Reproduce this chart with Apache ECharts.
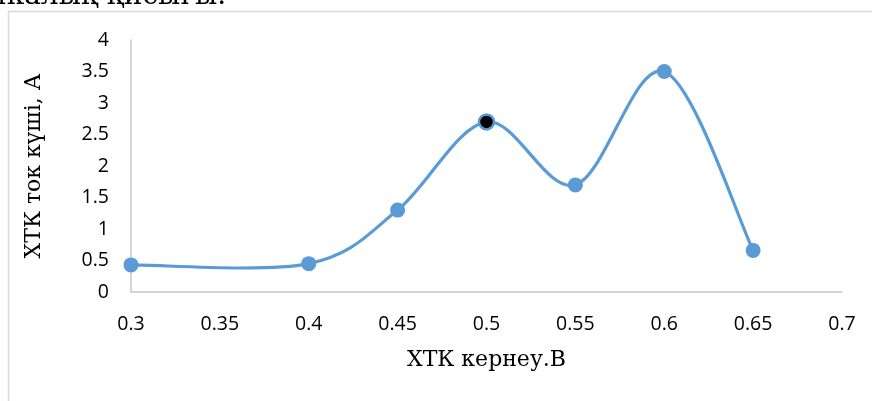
<!DOCTYPE html>
<html>
<head>
<meta charset="utf-8">
<script src="https://cdn.jsdelivr.net/npm/echarts@6/dist/echarts.min.js"></script>
<style>
  html, body { margin: 0; padding: 0; background: #fff; }
  #chart { width: 872px; height: 401px; }
</style>
</head>
<body>
<div id="chart"></div>
<script>
// Voltage (V) and current (A) readings
const voltage = [0.3, 0.4, 0.45, 0.5, 0.55, 0.6, 0.65];
const current = [0.43, 0.45, 1.3, 2.7, 1.7, 3.5, 0.66];
const highlightedVoltage = 0.5;

const blue = '#5b9bd5';
const pairs = voltage.map((v, i) => [v, current[i]]);

const markers = pairs.map(p => {
  const item = { value: p };
  if (p[0] === highlightedVoltage) {
    item.itemStyle = { color: '#000', borderColor: blue, borderWidth: 2.5 };
  }
  return item;
});

// Smoothed curve: each segment is a cubic Bezier whose control points
// follow the neighbouring readings (Catmull-Rom style, factor 1/6).
function renderSegment(params, api) {
  const i = params.dataIndex;
  if (i >= pairs.length - 1) return null;
  const px = j => api.coord(pairs[Math.max(0, Math.min(pairs.length - 1, j))]);
  const p0 = px(i - 1), p1 = px(i), p2 = px(i + 1), p3 = px(i + 2);
  return {
    type: 'bezierCurve',
    shape: {
      x1: p1[0], y1: p1[1],
      x2: p2[0], y2: p2[1],
      cpx1: p1[0] + (p2[0] - p0[0]) / 6,
      cpy1: p1[1] + (p2[1] - p0[1]) / 6,
      cpx2: p2[0] - (p3[0] - p1[0]) / 6,
      cpy2: p2[1] - (p3[1] - p1[1]) / 6
    },
    style: { stroke: blue, lineWidth: 3.2, fill: null, lineCap: 'round' }
  };
}

const chart = echarts.init(document.getElementById('chart'));
chart.setOption({
  animation: false,
  backgroundColor: '#fff',
  graphic: [
    {
      type: 'rect',
      shape: { x: 8.5, y: 11.5, width: 900, height: 500 },
      style: { fill: 'none', stroke: '#d9d9d9', lineWidth: 1.5 },
      z: -1
    },
    {
      type: 'text',
      left: -12,
      top: -17,
      style: {
        text: 'икалық қисығы.',
        font: '28px "DejaVu Serif"',
        fill: '#000'
      }
    }
  ],
  grid: { left: 131, right: 30, top: 40, bottom: 109 },
  xAxis: {
    type: 'value',
    min: 0.3,
    max: 0.7,
    interval: 0.05,
    splitLine: { show: false },
    axisTick: { show: false },
    axisLine: { lineStyle: { color: '#c8c8c8', width: 1.5 } },
    axisLabel: {
      margin: 22,
      color: '#000',
      fontFamily: 'Open Sans',
      fontSize: 19.5,
      formatter: v => String(Math.round(v * 100) / 100)
    },
    name: 'ХТК кернеу.В',
    nameLocation: 'middle',
    nameGap: 57,
    nameTextStyle: { fontFamily: 'DejaVu Serif', fontSize: 22, color: '#000' }
  },
  yAxis: {
    type: 'value',
    min: 0,
    max: 4,
    interval: 0.5,
    splitLine: { show: false },
    axisTick: { show: false },
    axisLine: { show: true, lineStyle: { color: '#c8c8c8', width: 1.5 } },
    axisLabel: {
      margin: 22,
      color: '#000',
      fontFamily: 'Open Sans',
      fontSize: 19.5
    },
    name: 'ХТК ток күші, А',
    nameLocation: 'middle',
    nameGap: 86,
    nameTextStyle: { fontFamily: 'DejaVu Serif', fontSize: 22, color: '#000' }
  },
  series: [
    {
      type: 'custom',
      data: pairs,
      encode: { x: 0, y: 1 },
      renderItem: renderSegment,
      z: 2
    },
    {
      type: 'scatter',
      data: markers,
      symbol: 'circle',
      symbolSize: 15,
      itemStyle: { color: blue, opacity: 1 },
      z: 3
    }
  ]
});
</script>
</body>
</html>
